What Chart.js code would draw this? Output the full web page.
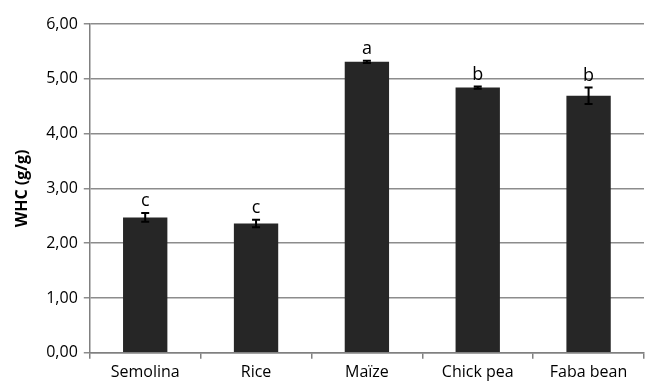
<!DOCTYPE html>
<html>
<head>
<meta charset="utf-8">
<script src="https://cdn.jsdelivr.net/npm/chart.js@4/dist/chart.umd.min.js"></script>
<style>
  html, body { margin: 0; padding: 0; background: #ffffff; }
  #wrap { width: 646px; height: 383px; }
</style>
</head>
<body>
<div id="wrap"><canvas id="c" width="646" height="383"></canvas></div>
<script>
const categories = ["Semolina", "Rice", "Maïze", "Chick pea", "Faba bean"];
const whcValues = [2.47, 2.36, 5.31, 4.84, 4.69];
const whcErrors = [0.08, 0.07, 0.02, 0.02, 0.15];
const groupLetters = ["c", "c", "a", "b", "b"];
const yTickMin = 0;
const yTickMax = 6;
const yTickStep = 1;
const yAxisTitle = "WHC (g/g)";

const FONT = "'Open Sans', 'Liberation Sans', sans-serif";

const errorBarPlugin = {
  id: 'errorBars',
  afterDatasetsDraw(chart) {
    const ctx = chart.ctx;
    const y = chart.scales.y;
    const meta = chart.getDatasetMeta(0);
    ctx.save();
    ctx.strokeStyle = '#000000';
    ctx.lineWidth = 2;
    meta.data.forEach((bar, i) => {
      const cx = bar.x;
      const hi = y.getPixelForValue(whcValues[i] + whcErrors[i]);
      const lo = y.getPixelForValue(whcValues[i] - whcErrors[i]);
      const cap = 4;
      ctx.beginPath();
      ctx.moveTo(cx, hi); ctx.lineTo(cx, lo);
      ctx.moveTo(cx - cap, hi); ctx.lineTo(cx + cap, hi);
      ctx.moveTo(cx - cap, lo); ctx.lineTo(cx + cap, lo);
      ctx.stroke();
      ctx.fillStyle = '#000000';
      ctx.font = "18px " + FONT;
      ctx.textAlign = 'center';
      ctx.textBaseline = 'bottom';
      ctx.fillText(groupLetters[i], cx, hi - 3);
    });
    ctx.restore();
  }
};

new Chart(document.getElementById('c'), {
  type: 'bar',
  data: {
    labels: categories,
    datasets: [{
      data: whcValues,
      backgroundColor: '#262626',
      borderWidth: 0,
      barPercentage: 0.4,
      categoryPercentage: 1.0
    }]
  },
  options: {
    responsive: false,
    animation: false,
    devicePixelRatio: 1,
    layout: { padding: { top: 24, right: 2, bottom: -3, left: 13 } },
    plugins: { legend: { display: false }, tooltip: { enabled: false } },
    scales: {
      x: {
        grid: { display: true, drawOnChartArea: false, drawTicks: true, tickLength: 6, color: '#808080', lineWidth: 1.5, offset: true },
        border: { display: true, color: '#808080', width: 1.5 },
        ticks: { color: '#000000', font: { family: FONT, size: 16 }, padding: 4, maxRotation: 0 }
      },
      y: {
        min: yTickMin, max: yTickMax,
        grid: { color: '#8c8c8c', lineWidth: 1.5, tickLength: 6 },
        border: { display: true, color: '#808080', width: 1.5 },
        ticks: {
          stepSize: yTickStep, color: '#000000', font: { family: FONT, size: 16 }, padding: 6,
          callback: v => v.toFixed(2).replace('.', ',')
        },
        title: { display: true, text: yAxisTitle, color: '#000000', font: { family: FONT, size: 16, weight: 'bold' }, padding: { top: 0, bottom: 8 } }
      }
    }
  },
  plugins: [errorBarPlugin]
});
</script>
</body>
</html>
